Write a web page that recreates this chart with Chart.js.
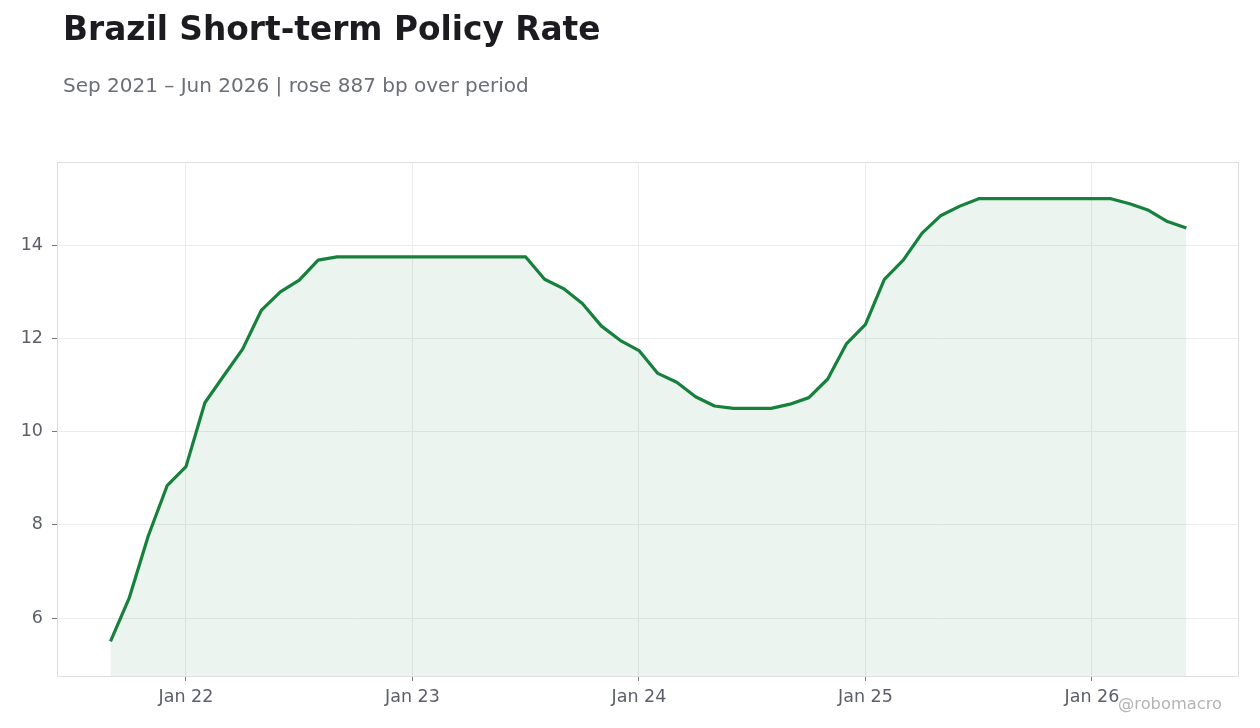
<!DOCTYPE html>
<html>
<head>
<meta charset="utf-8">
<script src="https://cdn.jsdelivr.net/npm/chart.js@4.4.1/dist/chart.umd.min.js"></script>
<style>
  html, body { margin: 0; padding: 0; background: #ffffff; }
  #wrap { position: relative; width: 1260px; height: 728px; overflow: hidden; font-family: 'DejaVu Sans', sans-serif; }
  #chart { position: absolute; left: 0; top: 0; }
  .title { position: absolute; left: 63px; top: 13px; font-size: 32.8px; line-height: 33px; font-weight: bold; color: #1c1c20; white-space: nowrap; }
  .subtitle { position: absolute; left: 63px; top: 75px; font-size: 20px; line-height: 20px; color: #6b6e76; white-space: nowrap; }
  .credit { position: absolute; right: 38px; top: 696px; font-size: 16.3px; line-height: 16px; color: #b4b4b8; white-space: nowrap; }
</style>
</head>
<body>
<div id="wrap">
  <canvas id="chart" width="1260" height="728"></canvas>
  <div class="title">Brazil Short-term Policy Rate</div>
  <div class="subtitle">Sep 2021 – Jun 2026 | rose 887 bp over period</div>
  <div class="credit">@robomacro</div>
</div>
<script>
const months = [
  "Sep 2021","Oct 2021","Nov 2021","Dec 2021",
  "Jan 2022","Feb 2022","Mar 2022","Apr 2022","May 2022","Jun 2022","Jul 2022","Aug 2022","Sep 2022","Oct 2022","Nov 2022","Dec 2022",
  "Jan 2023","Feb 2023","Mar 2023","Apr 2023","May 2023","Jun 2023","Jul 2023","Aug 2023","Sep 2023","Oct 2023","Nov 2023","Dec 2023",
  "Jan 2024","Feb 2024","Mar 2024","Apr 2024","May 2024","Jun 2024","Jul 2024","Aug 2024","Sep 2024","Oct 2024","Nov 2024","Dec 2024",
  "Jan 2025","Feb 2025","Mar 2025","Apr 2025","May 2025","Jun 2025","Jul 2025","Aug 2025","Sep 2025","Oct 2025","Nov 2025","Dec 2025",
  "Jan 2026","Feb 2026","Mar 2026","Apr 2026","May 2026","Jun 2026"
];
const policyRate = [
  5.50, 6.44, 7.76, 8.84,
  9.25, 10.62, 11.20, 11.77, 12.61, 13.00, 13.25, 13.68, 13.75, 13.75, 13.75, 13.75,
  13.75, 13.75, 13.75, 13.75, 13.75, 13.75, 13.75, 13.27, 13.07, 12.75, 12.27, 11.96,
  11.74, 11.25, 11.06, 10.75, 10.55, 10.50, 10.50, 10.50, 10.59, 10.73, 11.13, 11.89,
  12.30, 13.27, 13.68, 14.26, 14.64, 14.84, 15.00, 15.00, 15.00, 15.00, 15.00, 15.00,
  15.00, 15.00, 14.89, 14.75, 14.51, 14.37
];
const xTickMonths = ["Jan 2022","Jan 2023","Jan 2024","Jan 2025","Jan 2026"];
const xTickLabels = ["Jan 22","Jan 23","Jan 24","Jan 25","Jan 26"];
const yTickValues = [6, 8, 10, 12, 14];

const xTickIdx = xTickMonths.map(m => months.indexOf(m));
const points = policyRate.map((v, i) => ({ x: i, y: v }));

const frame = {
  id: 'frame',
  afterDatasetsDraw(chart) {
    const a = chart.chartArea, ctx = chart.ctx;
    ctx.save();
    ctx.strokeStyle = '#dedede';
    ctx.lineWidth = 1;
    ctx.strokeRect(Math.round(a.left) + 0.5, Math.round(a.top) + 0.5, Math.round(a.right - a.left) - 1, Math.round(a.bottom - a.top));
    ctx.restore();
  }
};

new Chart(document.getElementById('chart'), {
  type: 'line',
  data: {
    datasets: [{
      data: points,
      borderColor: '#16803c',
      backgroundColor: 'rgba(21,128,61,0.085)',
      borderWidth: 3.2,
      fill: 'start',
      pointRadius: 0,
      tension: 0,
      borderJoinStyle: 'round'
    }]
  },
  options: {
    responsive: false,
    animation: false,
    layout: { padding: { top: 162, right: 21, left: 0, bottom: 0 } },
    plugins: { legend: { display: false }, tooltip: { enabled: false }, title: { display: false } },
    scales: {
      x: {
        type: 'linear',
        min: -2.834,
        max: 59.79,
        afterBuildTicks: s => { s.ticks = xTickIdx.map(v => ({ value: v })); },
        afterFit: s => { s.height = 52; },
        ticks: {
          autoSkip: false,
          maxRotation: 0,
          padding: 6,
          color: '#5c5e68',
          font: { family: 'DejaVu Sans', size: 17.5 },
          callback: (v) => xTickLabels[xTickIdx.indexOf(v)]
        },
        grid: { color: '#ececec', lineWidth: 1, drawTicks: true, tickLength: 5, tickColor: '#777' },
        border: { display: false }
      },
      y: {
        min: 4.756,
        max: 15.787,
        afterBuildTicks: s => { s.ticks = yTickValues.map(v => ({ value: v })); },
        afterFit: s => { s.width = 57; },
        ticks: {
          padding: 9,
          color: '#5c5e68',
          font: { family: 'DejaVu Sans', size: 17.5 },
          callback: v => String(v)
        },
        grid: { color: '#ececec', lineWidth: 1, drawTicks: true, tickLength: 5, tickColor: '#777' },
        border: { display: false }
      }
    }
  },
  plugins: [frame]
});
</script>
</body>
</html>
